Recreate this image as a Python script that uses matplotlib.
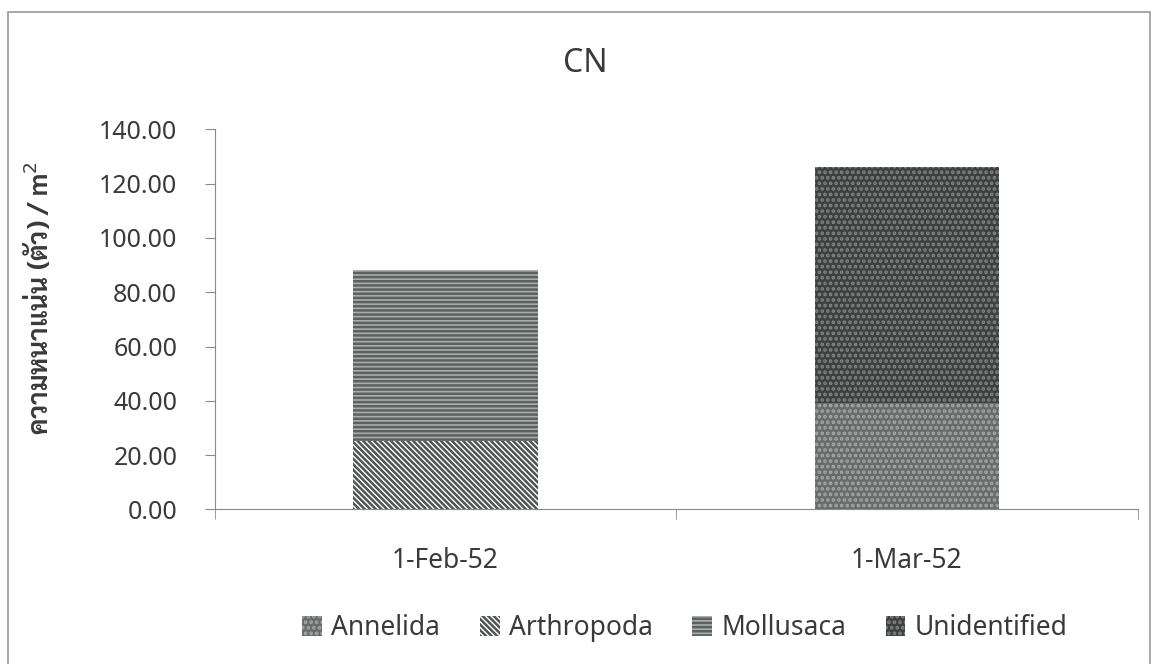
import matplotlib
matplotlib.use("Agg")
import matplotlib.pyplot as plt
import numpy as np
from matplotlib.patches import Rectangle

# data
dates = ["1-Feb-52", "1-Mar-52"]
groups = ["Annelida", "Arthropoda", "Mollusaca", "Unidentified"]
annelida = [0.0, 39.1]
arthropoda = [25.3, 0.0]
mollusaca = [62.9, 0.0]
unidentified = [0.0, 87.1]
y_ticks = [0, 20, 40, 60, 80, 100, 120, 140]

plt.rcParams['font.family'] = ['Noto Sans', 'Noto Sans Thai Looped', 'DejaVu Sans']
plt.rcParams['hatch.linewidth'] = 1.8
text_col = "#3a3a3a"
axis_col = "#8a8a8a"

styles = {
    "Annelida": dict(facecolor="#686d6b", edgecolor="#a2a6a4", hatch="..."),
    "Arthropoda": dict(facecolor="white", edgecolor="#4f5553", hatch="\\\\\\\\\\\\"),
    "Mollusaca": dict(facecolor="#a9aeac", edgecolor="#5c6260", hatch="----"),
    "Unidentified": dict(facecolor="#3d4241", edgecolor="#7f8482", hatch="..."),
}
values = {"Annelida": annelida, "Arthropoda": arthropoda,
          "Mollusaca": mollusaca, "Unidentified": unidentified}

fig = plt.figure(figsize=(11.55, 6.64), dpi=100)
fig.patches.append(Rectangle((0.007, -0.01), 0.989, 0.992, transform=fig.transFigure,
                             fill=False, edgecolor="#9a9a9a", linewidth=1.2))
ax = fig.add_axes([0.186, 0.2327, 0.799, 0.5726])

x = np.arange(len(dates))
bottom = np.zeros(len(dates))
for g in groups:
    v = np.array(values[g])
    ax.bar(x, v, width=0.40, bottom=bottom, label=g, linewidth=0, **styles[g])
    bottom += v

ax.set_xlim(-0.5, 1.5)
ax.set_ylim(0, 140)
ax.set_yticks(y_ticks)
ax.set_yticklabels(["%.2f" % t for t in y_ticks])
ax.set_xticks(x)
ax.set_xticklabels(dates)
ax.set_xticks([-0.5, 0.5, 1.5], minor=True)
ax.tick_params(axis="x", which="major", length=0, pad=27, labelsize=19, labelcolor=text_col)
ax.tick_params(axis="x", which="minor", length=7, color=axis_col, direction="out")
ax.tick_params(axis="y", length=7, color=axis_col, pad=20, labelsize=18, labelcolor=text_col)
for side in ["top", "right"]:
    ax.spines[side].set_visible(False)
for side in ["left", "bottom"]:
    ax.spines[side].set_color(axis_col)

fig.text(39 / 1155, 1 - 298 / 664, "ความหนาแน่น (ตัว) / m$^2$", rotation=90,
         ha="center", va="center", fontsize=19, fontweight="bold", color=text_col,
         family=["Sarabun", "Noto Sans Thai Looped", "DejaVu Sans"])
fig.text(0.507, 0.905, "CN", ha="center", va="center", fontsize=23, color=text_col)

fig.legend(loc="center", bbox_to_anchor=(0.593, 0.054), ncol=4, frameon=False,
           fontsize=19, handlelength=0.75, handleheight=0.75, handletextpad=0.35,
           columnspacing=1.5, labelcolor=text_col)

fig.savefig("out.png")
